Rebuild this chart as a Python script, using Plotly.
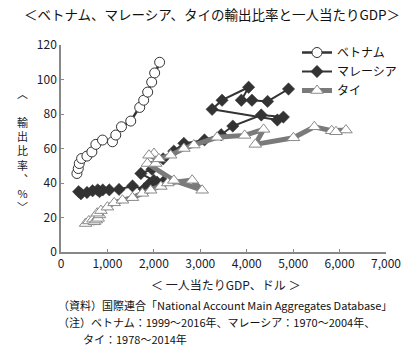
import plotly.graph_objects as go

# Vietnam 1999-2016
vn_gdp = [343, 372, 393, 444, 558, 665, 751, 894, 1109, 1180, 1302, 1502, 1695, 1781, 1867, 1953, 2017, 2124]
vn_exp = [45.5, 48.4, 51.3, 54.2, 55.6, 58.0, 62.4, 64.9, 63.9, 67.8, 72.6, 75.9, 83.8, 88.0, 92.7, 98.5, 103.8, 110.0]

# Malaysia 1970-2004
my_gdp = [380, 430, 560, 680, 790, 830, 900, 1040, 1250, 1540,
          1790, 1830, 1900, 2070, 2220, 2000, 1720, 1960, 2200, 2430,
          2646, 3090, 3450, 3700, 4313, 4790, 4660, 3255, 3469, 4041,
          3884, 4113, 4449, 4900]
my_exp = [35.0, 33.8, 34.5, 35.5, 36.0, 35.0, 36.0, 36.0, 36.3, 38.3,
          36.5, 36.8, 39.5, 40.5, 41.0, 41.5, 45.5, 48.0, 54.0, 58.5,
          63.0, 65.0, 68.0, 73.0, 79.4, 78.2, 76.5, 82.7, 88.0, 95.5,
          88.0, 88.0, 87.3, 94.5]

# Thailand 1978-2014
th_gdp = [530, 600, 690, 720, 760, 800, 830, 780, 860, 1000,
          1145, 1323, 1538, 1753, 1931, 2150, 2300, 2825, 3040, 2431,
          1860, 2039, 2003, 1895, 2110, 2361,
          2646, 2861, 3362, 3955, 4363, 4185, 5006, 5457, 5830, 6137, 5923]
th_exp = [16.5, 18.0, 19.0, 17.5, 18.5, 19.5, 21.5, 22.5, 24.0, 26.0,
          28.5, 30.0, 31.5, 34.0, 35.8, 38.0, 40.0, 41.6, 35.8, 41.5,
          51.3, 51.3, 57.1, 56.1, 54.0, 56.1,
          60.0, 62.0, 66.5, 67.6, 71.1, 62.4, 66.2, 72.6, 70.3, 70.7, 69.7]

names = ["ベトナム", "マレーシア", "タイ"]
x_ticks = [0, 1000, 2000, 3000, 4000, 5000, 6000, 7000]
y_ticks = [0, 20, 40, 60, 80, 100, 120]

title = "＜ベトナム、マレーシア、タイの輸出比率と一人当たりGDP＞"
xtitle = "＜ 一人当たりGDP、ドル ＞"
ytitle = "︿<br><br>輸<br>出<br>比<br>率<br>︑<br>%<br>﹀"
notes = ["（資料）国際連合「National Account Main Aggregates Database」",
         "（注）ベトナム：1999～2016年、マレーシア：1970～2004年、",
         "タイ：1978～2014年"]

FONT = "Noto Sans CJK JP"
W, H = 420, 353
L, R, T, B = 61, 386, 45, 252

def px(x):
    return (x - L) / (R - L)

def py(y):
    return (B - y) / (B - T)

fig = go.Figure()
fig.add_trace(go.Scatter(
    x=vn_gdp, y=vn_exp, name=names[0], mode="lines+markers",
    line=dict(color="#333333", width=2.5),
    marker=dict(symbol="circle", size=10, color="white", line=dict(color="#333333", width=1))))
fig.add_trace(go.Scatter(
    x=my_gdp, y=my_exp, name=names[1], mode="lines+markers",
    line=dict(color="#333333", width=2),
    marker=dict(symbol="diamond", size=9.5, color="#333333", line=dict(color="#333333", width=0.5))))
fig.add_trace(go.Scatter(
    x=th_gdp, y=th_exp, name=names[2], mode="lines+markers",
    line=dict(color="#7a7a7a", width=5),
    marker=dict(symbol="triangle-up", size=11, color="white", line=dict(color="#8a8a8a", width=1))))

annotations = []
annotations.append(dict(text=title, xref="paper", yref="paper", x=px(212), y=py(14),
                        showarrow=False, font=dict(size=13.5, color="#111", family=FONT),
                        xanchor="center", yanchor="middle"))
annotations.append(dict(text=xtitle, xref="paper", yref="paper", x=px(226), y=py(284),
                        showarrow=False, font=dict(size=12, color="#1a1a2a", family=FONT),
                        xanchor="center", yanchor="middle"))
annotations.append(dict(text=ytitle, xref="paper", yref="paper", x=px(22), y=py(150),
                        showarrow=False, font=dict(size=11, color="#1a1a2a", family=FONT),
                        xanchor="center", yanchor="middle", align="center"))
note_pos = [(56, 305), (56, 322), (81, 339)]
for t, (xx, yy) in zip(notes, note_pos):
    annotations.append(dict(text=t, xref="paper", yref="paper", x=px(xx), y=py(yy),
                            showarrow=False, font=dict(size=11, color="#111", family=FONT),
                            xanchor="left", yanchor="middle"))

fig.update_layout(
    width=W, height=H,
    margin=dict(l=L, r=W - R, t=T, b=H - B, pad=0),
    paper_bgcolor="white", plot_bgcolor="white",
    font=dict(family=FONT, size=12, color="#1a1a2a"),
    showlegend=True,
    legend=dict(x=px(297), y=py(38), xanchor="left", yanchor="top",
                bgcolor="rgba(0,0,0,0)", font=dict(size=12, color="#111"),
                tracegroupgap=0, itemsizing="trace"),
    annotations=annotations,
    xaxis=dict(range=[0, 7000], tickvals=x_ticks, tickformat=",d",
               showgrid=False, zeroline=False, showline=True, linecolor="#888888", linewidth=1.5,
               ticks="inside", ticklen=3, tickcolor="#888888", tickfont=dict(size=12)),
    yaxis=dict(range=[0, 120], tickvals=y_ticks,
               showgrid=False, zeroline=False, showline=True, linecolor="#888888", linewidth=1.5,
               ticks="inside", ticklen=3, tickcolor="#888888", tickfont=dict(size=12)),
)

fig.write_html("out.html")
